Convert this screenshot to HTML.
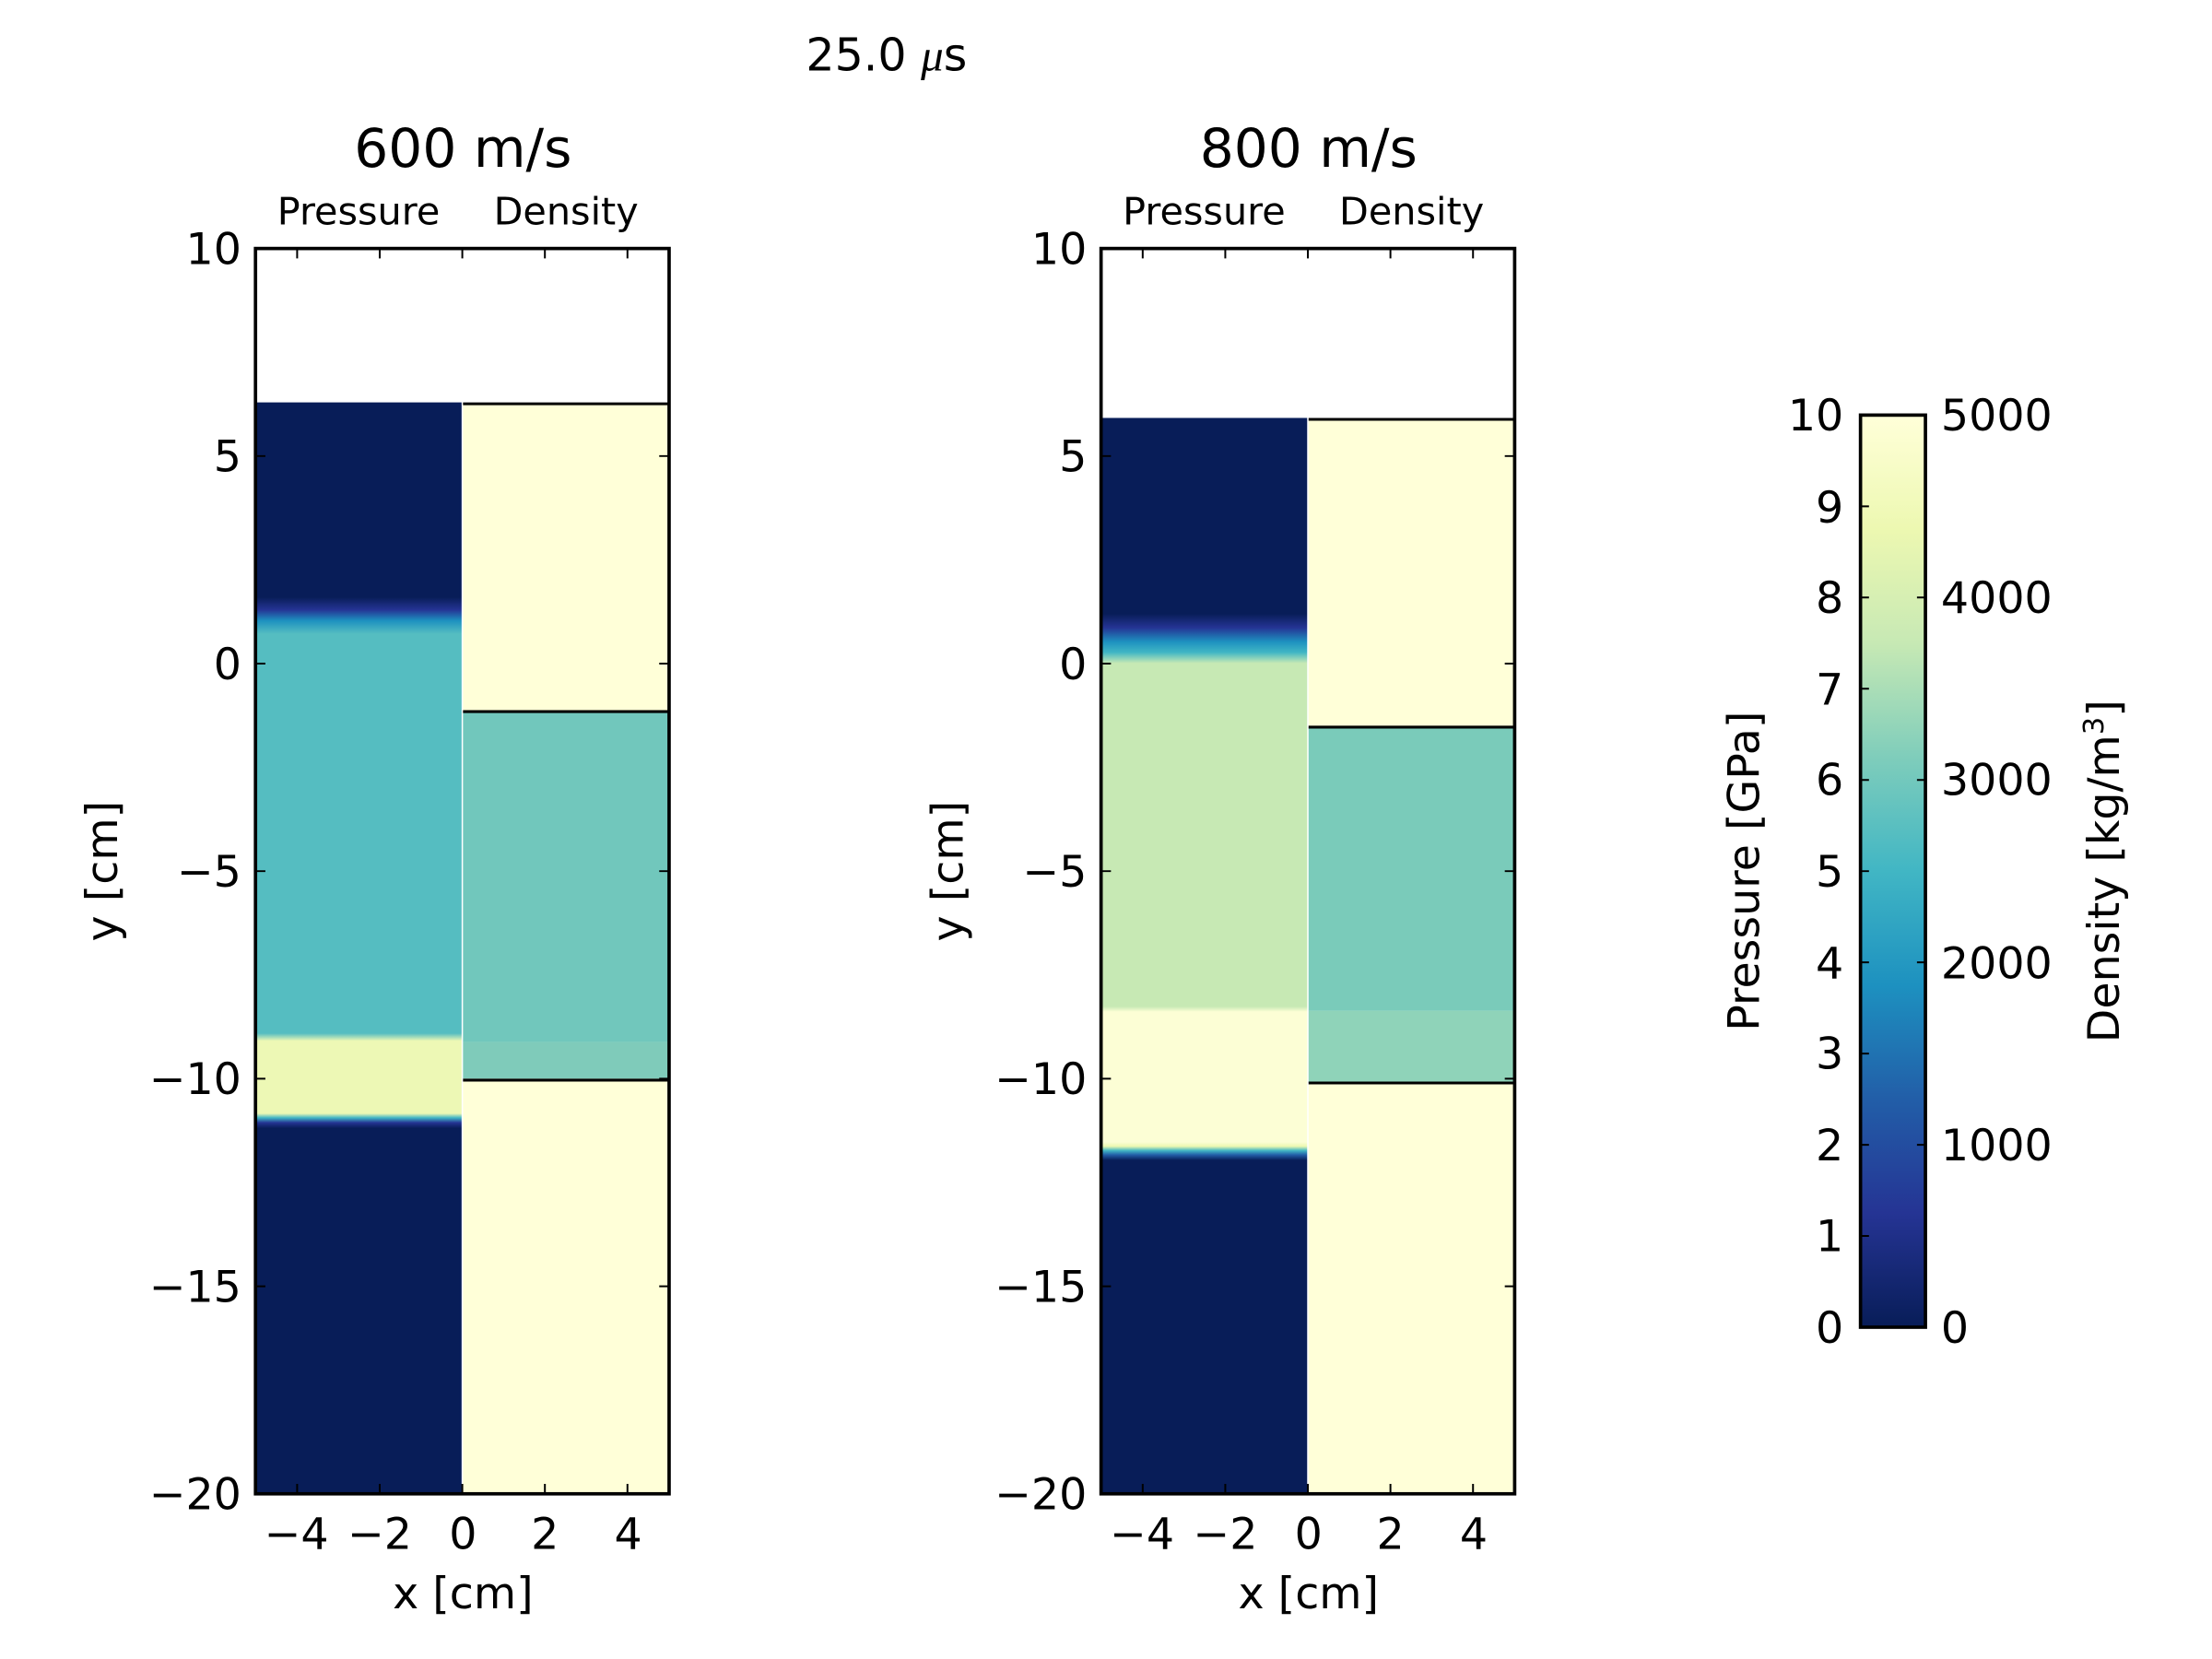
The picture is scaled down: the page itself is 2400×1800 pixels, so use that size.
<!DOCTYPE html>
<html><head><meta charset="utf-8"><style>
html,body{margin:0;padding:0;background:#fff;}
svg{display:block;}
text{font-family:"DejaVu Sans","Liberation Sans",sans-serif;fill:#000;}
</style></head><body>
<svg width="2400" height="1800" viewBox="0 0 1567 1175" preserveAspectRatio="none" xmlns="http://www.w3.org/2000/svg">
<defs>
<linearGradient id="lp" x1="0" y1="285" x2="0" y2="1058" gradientUnits="userSpaceOnUse">
<stop offset="0" stop-color="#081d58"/>
<stop offset="0.1785" stop-color="#081d58"/>
<stop offset="0.190" stop-color="#253494"/>
<stop offset="0.200" stop-color="#1d91c0"/>
<stop offset="0.212" stop-color="#55bdc1"/>
<stop offset="0.578" stop-color="#55bdc1"/>
<stop offset="0.585" stop-color="#edf8b5"/>
<stop offset="0.6515" stop-color="#edf8b5"/>
<stop offset="0.6555" stop-color="#41b6c4"/>
<stop offset="0.660" stop-color="#253494"/>
<stop offset="0.665" stop-color="#081d58"/>
<stop offset="1" stop-color="#081d58"/>
</linearGradient>
<linearGradient id="rp" x1="0" y1="296" x2="0" y2="1058" gradientUnits="userSpaceOnUse">
<stop offset="0" stop-color="#081d58"/>
<stop offset="0.182" stop-color="#081d58"/>
<stop offset="0.195" stop-color="#253494"/>
<stop offset="0.208" stop-color="#1d91c0"/>
<stop offset="0.218" stop-color="#41b6c4"/>
<stop offset="0.228" stop-color="#c7e9b4"/>
<stop offset="0.547" stop-color="#c7e9b4"/>
<stop offset="0.552" stop-color="#fcfed5"/>
<stop offset="0.673" stop-color="#fcfed5"/>
<stop offset="0.677" stop-color="#edf8b1"/>
<stop offset="0.681" stop-color="#41b6c4"/>
<stop offset="0.685" stop-color="#225ea8"/>
<stop offset="0.690" stop-color="#081d58"/>
<stop offset="1" stop-color="#081d58"/>
</linearGradient>
<linearGradient id="cb" x1="0" y1="1" x2="0" y2="0">
<stop offset="0" stop-color="#081d58"/>
<stop offset="0.125" stop-color="#253494"/>
<stop offset="0.25" stop-color="#225ea8"/>
<stop offset="0.375" stop-color="#1d91c0"/>
<stop offset="0.5" stop-color="#41b6c4"/>
<stop offset="0.625" stop-color="#7fcdbb"/>
<stop offset="0.75" stop-color="#c7e9b4"/>
<stop offset="0.875" stop-color="#edf8b1"/>
<stop offset="1" stop-color="#ffffd9"/>
</linearGradient>
</defs>

<text x="628" y="50" font-size="32" text-anchor="middle">25.0 <tspan font-style="italic" font-family="Liberation Serif, serif">μ</tspan>s</text>

<!-- LEFT PANEL -->
<text x="328" y="118" font-size="38" text-anchor="middle">600 m/s</text>
<text x="254" y="159" font-size="27" text-anchor="middle">Pressure</text>
<text x="401" y="159" font-size="27" text-anchor="middle">Density</text>
<rect x="181" y="285" width="146" height="773" fill="url(#lp)"/>
<rect x="328" y="286" width="146" height="218" fill="#ffffd8"/>
<rect x="328" y="504" width="146" height="234" fill="#71c7bc"/>
<rect x="328" y="738" width="146" height="26" fill="#7fcbba"/>
<rect x="328" y="764" width="146" height="294" fill="#ffffd8"/>
<g stroke="#000" stroke-width="2">
<line x1="328" y1="286" x2="474" y2="286"/>
<line x1="328" y1="504" x2="474" y2="504"/>
<line x1="328" y1="765" x2="474" y2="765"/>
</g>
<g stroke="#000" stroke-width="1.3">
<path d="M181 323h7M181 470h7M181 617h7M181 764h7M181 911h7M474 323h-7M474 470h-7M474 617h-7M474 764h-7M474 911h-7"/>
<path d="M210.5 176v7M269 176v7M327.5 176v7M386 176v7M444.5 176v7M210.5 1058v-7M269 1058v-7M327.5 1058v-7M386 1058v-7M444.5 1058v-7"/>
</g>
<rect x="181" y="176" width="293" height="882" fill="none" stroke="#000" stroke-width="2.4"/>
<g font-size="31" text-anchor="end">
<text x="171" y="187">10</text><text x="171" y="334">5</text><text x="171" y="481">0</text>
<text x="171" y="628">−5</text><text x="171" y="775">−10</text><text x="171" y="922">−15</text><text x="171" y="1069">−20</text>
</g>
<g font-size="31" text-anchor="middle">
<text x="210" y="1097">−4</text><text x="269" y="1097">−2</text><text x="328" y="1097">0</text><text x="386" y="1097">2</text><text x="445" y="1097">4</text>
</g>
<text x="328" y="1139" font-size="31" text-anchor="middle">x [cm]</text>
<text transform="translate(83,617) rotate(-90)" font-size="31" text-anchor="middle">y [cm]</text>

<!-- RIGHT PANEL -->
<text x="927" y="118" font-size="38" text-anchor="middle">800 m/s</text>
<text x="853" y="159" font-size="27" text-anchor="middle">Pressure</text>
<text x="1000" y="159" font-size="27" text-anchor="middle">Density</text>
<rect x="780" y="296" width="146" height="762" fill="url(#rp)"/>
<rect x="927" y="297" width="146" height="218" fill="#ffffd8"/>
<rect x="927" y="515" width="146" height="201" fill="#7acbba"/>
<rect x="927" y="716" width="146" height="51" fill="#8fd3b9"/>
<rect x="927" y="767" width="146" height="291" fill="#ffffd8"/>
<g stroke="#000" stroke-width="2">
<line x1="927" y1="297" x2="1073" y2="297"/>
<line x1="927" y1="515" x2="1073" y2="515"/>
<line x1="927" y1="767" x2="1073" y2="767"/>
</g>
<g stroke="#000" stroke-width="1.3">
<path d="M780 323h7M780 470h7M780 617h7M780 764h7M780 911h7M1073 323h-7M1073 470h-7M1073 617h-7M1073 764h-7M1073 911h-7"/>
<path d="M809.5 176v7M868 176v7M926.5 176v7M985 176v7M1043.5 176v7M809.5 1058v-7M868 1058v-7M926.5 1058v-7M985 1058v-7M1043.5 1058v-7"/>
</g>
<rect x="780" y="176" width="293" height="882" fill="none" stroke="#000" stroke-width="2.4"/>
<g font-size="31" text-anchor="end">
<text x="770" y="187">10</text><text x="770" y="334">5</text><text x="770" y="481">0</text>
<text x="770" y="628">−5</text><text x="770" y="775">−10</text><text x="770" y="922">−15</text><text x="770" y="1069">−20</text>
</g>
<g font-size="31" text-anchor="middle">
<text x="809" y="1097">−4</text><text x="868" y="1097">−2</text><text x="927" y="1097">0</text><text x="985" y="1097">2</text><text x="1044" y="1097">4</text>
</g>
<text x="927" y="1139" font-size="31" text-anchor="middle">x [cm]</text>
<text transform="translate(682,617) rotate(-90)" font-size="31" text-anchor="middle">y [cm]</text>

<!-- COLORBAR -->
<rect x="1318" y="294" width="46" height="646" fill="url(#cb)"/>
<rect x="1318" y="294" width="46" height="646" fill="none" stroke="#000" stroke-width="2.4"/>
<g stroke="#000" stroke-width="1.3">
<path d="M1318 358.6h6M1318 423.2h6M1318 487.8h6M1318 552.4h6M1318 617h6M1318 681.6h6M1318 746.2h6M1318 810.8h6M1318 875.4h6"/>
<path d="M1364 423.2h-6M1364 552.4h-6M1364 681.6h-6M1364 810.8h-6"/>
</g>
<g font-size="31" text-anchor="end">
<text x="1306" y="305">10</text><text x="1306" y="370">9</text><text x="1306" y="434">8</text><text x="1306" y="499">7</text>
<text x="1306" y="563">6</text><text x="1306" y="628">5</text><text x="1306" y="693">4</text><text x="1306" y="757">3</text>
<text x="1306" y="822">2</text><text x="1306" y="886">1</text><text x="1306" y="951">0</text>
</g>
<g font-size="31">
<text x="1375" y="305">5000</text><text x="1375" y="434">4000</text><text x="1375" y="563">3000</text>
<text x="1375" y="693">2000</text><text x="1375" y="822">1000</text><text x="1375" y="951">0</text>
</g>
<text transform="translate(1246,617) rotate(-90)" font-size="31" text-anchor="middle">Pressure [GPa]</text>
<text transform="translate(1501,617) rotate(-90)" font-size="31" text-anchor="middle">Density [kg/m<tspan dy="-11" font-size="20">3</tspan><tspan dy="11">]</tspan></text>
</svg>
</body></html>
